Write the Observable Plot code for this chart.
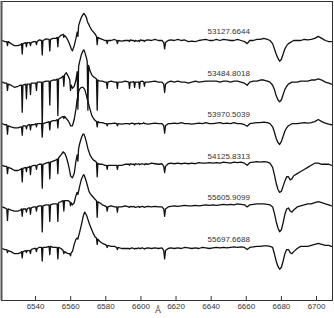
<!DOCTYPE html>
<html>
<head>
<meta charset="utf-8">
<script src="https://cdn.jsdelivr.net/npm/d3@7"></script>
<script src="https://cdn.jsdelivr.net/npm/@observablehq/plot@0.6"></script>
<style>
  html, body { margin: 0; padding: 0; background: #fff; }
  #chart { width: 334px; height: 318px; }
</style>
</head>
<body>
<div id="chart"></div>
<script>
// Wavelength grid (Å)
const wavelength = [
  6521, 6522.5, 6523.6, 6524.0, 6524.4, 6526, 6528, 6530, 6531.5,
  6532.0, 6532.4, 6532.8, 6534.4, 6534.8, 6535.2, 6536, 6536.7, 6537.1, 6537.5, 6539,
  6540.1, 6540.5, 6540.9, 6542, 6543.4, 6543.8, 6544.2, 6546, 6547.7, 6548.1, 6548.5, 6550, 6551.5,
  6552.3, 6552.7, 6553.1, 6554.5, 6555.7, 6556.1, 6556.5, 6557.5, 6558.5, 6559.5, 6559.9, 6560.3, 6561, 6562, 6563,
  6563.7, 6564.1, 6564.5, 6565, 6566, 6567, 6567.5, 6568, 6569, 6569.4, 6569.8, 6570.2, 6571, 6572, 6573, 6574,
  6574.7, 6575.1, 6575.5, 6576.5, 6578, 6579.5, 6580.4, 6580.8, 6581.2, 6583, 6585, 6586.2, 6586.6, 6587.0, 6589, 6591,
  6593.1, 6593.5, 6593.9, 6595, 6596.0, 6596.4, 6596.8, 6598, 6598.8, 6599.2, 6599.6, 6600.8, 6601.6, 6602.0, 6602.4, 6604, 6606, 6608, 6610, 6612,
  6613.0, 6613.5, 6614.0, 6615.5, 6617, 6619, 6621, 6623, 6625, 6627, 6629, 6631, 6633, 6635, 6637, 6639,
  6641, 6643, 6645, 6647, 6649, 6651, 6653, 6655, 6657, 6659, 6660.5, 6662, 6664, 6666, 6668, 6670, 6672, 6673.5,
  6675, 6676, 6677, 6678, 6679, 6680, 6681, 6682, 6683, 6684, 6685, 6686, 6687,
  6689, 6691, 6693, 6695, 6697, 6699, 6701, 6703, 6705, 6707, 6708.5
];

// Epoch labels (MJD)
const mjd = ["53127.6644", "53484.8018", "53970.5039", "54125.8313", "55605.9099", "55697.6688"];

// Relative flux (% of continuum), one array per epoch, on the wavelength grid
const flux53127 = [
  100, 98, 98, 90, 98, 94, 90, 90, 92,
  94, 74, 94, 96, 88, 96, 96, 96, 90, 96, 98,
  98, 92, 98, 101, 100, 72, 100, 103, 102, 80, 102, 104, 104,
  106, 88, 106, 110, 112, 106, 110, 106, 100, 92, 88, 84, 80, 90, 104,
  116, 108, 128, 134, 144, 150, 152, 150, 144, 138, 134, 132, 126, 120, 116, 112,
  108, 92, 106, 104, 102, 100, 100, 94, 100, 100, 102, 100, 94, 100, 99, 100,
  100, 98, 101, 100, 100, 98, 100, 99, 100, 98, 101, 100, 100, 98, 100, 101, 100, 102, 100, 100,
  96, 84, 96, 100, 101, 100, 102, 100, 101, 98, 99, 98, 100, 101, 102, 100,
  100, 102, 100, 102, 101, 100, 100, 102, 100, 98, 94, 100, 100, 102, 102, 104, 102, 100,
  94, 84, 74, 66, 60, 64, 74, 84, 90, 94, 96, 98, 100,
  100, 100, 102, 101, 102, 104, 108, 104, 100, 98, 98
];
const flux53484 = [
  100, 98, 98, 84, 96, 94, 90, 92, 94,
  94, 42, 94, 96, 68, 96, 96, 96, 76, 98, 98,
  98, 84, 100, 100, 100, 10, 100, 102, 102, 56, 102, 104, 104,
  106, 36, 106, 108, 112, 92, 114, 118, 112, 104, 84, 94, 88, 92, 104,
  120, 48, 130, 138, 152, 160, 162, 158, 146, 140, 46, 132, 122, 114, 110, 108,
  106, 46, 104, 102, 102, 100, 100, 88, 100, 102, 100, 100, 88, 100, 100, 102,
  100, 88, 100, 100, 101, 90, 100, 100, 100, 88, 101, 102, 100, 92, 100, 100, 101, 102, 100, 100,
  96, 80, 96, 100, 102, 100, 102, 100, 100, 98, 100, 102, 100, 101, 102, 102,
  102, 102, 100, 102, 102, 100, 102, 102, 100, 98, 94, 100, 102, 102, 104, 104, 102, 100,
  94, 86, 74, 66, 62, 66, 76, 86, 92, 96, 98, 100, 100,
  100, 102, 102, 102, 104, 104, 106, 104, 100, 98, 96
];
const flux53970 = [
  100, 98, 98, 80, 96, 94, 92, 92, 94,
  94, 78, 96, 96, 90, 96, 98, 98, 88, 98, 98,
  100, 94, 100, 100, 100, 74, 100, 102, 104, 88, 104, 106, 106,
  108, 92, 108, 112, 114, 110, 114, 110, 106, 100, 96, 96, 96, 108, 128,
  148, 144, 162, 166, 170, 170, 168, 166, 154, 148, 144, 138, 128, 116, 110, 106,
  104, 94, 104, 102, 102, 100, 100, 96, 100, 100, 101, 100, 96, 100, 99, 100,
  100, 99, 100, 101, 100, 98, 100, 100, 101, 99, 100, 100, 102, 100, 100, 99, 100, 101, 100, 100,
  96, 82, 96, 100, 100, 101, 100, 102, 100, 100, 99, 100, 101, 100, 102, 100,
  100, 101, 102, 100, 101, 100, 102, 100, 100, 98, 95, 100, 101, 102, 102, 103, 102, 100,
  94, 84, 72, 64, 60, 66, 76, 86, 92, 96, 98, 100, 100,
  100, 101, 102, 101, 102, 104, 108, 104, 101, 99, 98
];
const flux54125 = [
  100, 98, 98, 84, 96, 94, 90, 90, 92,
  94, 68, 94, 96, 88, 96, 96, 98, 82, 98, 100,
  100, 92, 100, 102, 102, 56, 102, 104, 106, 74, 106, 108, 110,
  112, 84, 114, 120, 126, 124, 124, 116, 104, 88, 80, 78, 76, 84, 108,
  120, 108, 132, 140, 152, 160, 160, 156, 144, 138, 132, 128, 120, 114, 110, 108,
  106, 78, 104, 102, 102, 100, 100, 92, 100, 100, 100, 100, 92, 100, 100, 102,
  102, 100, 103, 102, 102, 100, 103, 102, 103, 101, 102, 103, 102, 101, 103, 102, 104, 103, 102, 103,
  98, 86, 98, 103, 104, 103, 104, 103, 104, 103, 104, 103, 105, 104, 104, 105,
  104, 105, 104, 106, 105, 104, 106, 105, 106, 104, 100, 105, 106, 107, 106, 107, 106, 104,
  96, 82, 66, 54, 48, 50, 60, 70, 78, 78, 72, 74, 80,
  84, 88, 92, 96, 100, 104, 104, 102, 102, 102, 100
];
const flux55605 = [
  100, 98, 96, 74, 96, 94, 92, 92, 94,
  96, 82, 96, 96, 90, 96, 98, 98, 86, 98, 100,
  100, 92, 100, 102, 102, 52, 102, 104, 104, 72, 104, 106, 106,
  106, 72, 108, 110, 112, 92, 112, 112, 112, 110, 102, 108, 104, 108, 122,
  128, 124, 130, 138, 152, 160, 162, 158, 148, 142, 138, 132, 126, 122, 118, 114,
  112, 80, 110, 108, 104, 102, 100, 92, 100, 102, 100, 100, 90, 100, 100, 102,
  100, 99, 101, 100, 101, 100, 99, 100, 101, 99, 100, 101, 100, 99, 100, 101, 100, 101, 100, 100,
  96, 82, 96, 100, 101, 102, 101, 102, 103, 102, 102, 103, 102, 103, 104, 103,
  104, 103, 104, 105, 104, 105, 104, 106, 105, 104, 100, 104, 105, 106, 106, 106, 105, 104,
  100, 88, 72, 60, 52, 56, 70, 86, 96, 98, 92, 90, 94,
  100, 102, 104, 106, 106, 108, 110, 108, 106, 104, 102
];
const flux55697 = [
  100, 98, 98, 92, 96, 94, 90, 90, 92,
  94, 82, 94, 96, 92, 96, 96, 96, 90, 98, 100,
  100, 94, 100, 102, 102, 76, 102, 102, 104, 88, 104, 102, 102,
  102, 80, 102, 100, 96, 90, 94, 92, 90, 90, 86, 92, 94, 108, 118,
  120, 118, 124, 130, 144, 160, 166, 170, 164, 160, 156, 152, 144, 136, 128, 122,
  120, 108, 118, 114, 110, 108, 106, 102, 106, 104, 104, 102, 98, 102, 100, 100,
  100, 99, 100, 101, 100, 99, 100, 100, 101, 100, 100, 101, 100, 99, 100, 101, 100, 101, 100, 101,
  96, 80, 96, 100, 101, 100, 101, 100, 102, 101, 100, 101, 100, 102, 101, 100,
  101, 102, 101, 102, 101, 102, 103, 102, 103, 102, 98, 102, 103, 104, 104, 105, 105, 104,
  102, 90, 76, 66, 60, 64, 76, 90, 98, 98, 92, 90, 94,
  100, 104, 104, 104, 106, 108, 110, 108, 106, 106, 104
];

// Vertical offset applied to each spectrum (continuum units)
const offsets = [0, -0.8, -1.6, -2.4, -3.2, -4.0];

// Axis tick labels (Å)
const xTicks = [6540, 6560, 6580, 6600, 6620, 6640, 6660, 6680, 6700];
const xLabel = "Å";

// ---- build table ----
const fluxes = [flux53127, flux53484, flux53970, flux54125, flux55605, flux55697];
fluxes.forEach((f, i) => {
  if (f.length !== wavelength.length) throw new Error(`flux ${mjd[i]} length ${f.length} != ${wavelength.length}`);
});
const rows = [];
fluxes.forEach((f, i) => {
  f.forEach((v, j) => rows.push({lambda: wavelength[j], y: v / 100 + offsets[i], mjd: mjd[i]}));
});
const labelRows = mjd.map((m, i) => ({mjd: m, level: 1 + offsets[i]}));

const xDomain = [6520.6, 6709.1];
const labelLambda = 6650;

const chart = Plot.plot({
  width: 334,
  height: 318,
  marginLeft: 1,
  marginRight: 2,
  marginTop: 1,
  marginBottom: 18,
  x: {domain: xDomain},
  y: {domain: [-4.0, 1.75], axis: null},
  style: {fontFamily: "'Liberation Sans', Arial, sans-serif", fontSize: "8px", color: "#333", background: "#fff"},
  marks: [
    Plot.line(rows, {x: "lambda", y: "y", z: "mjd", stroke: "#111", strokeWidth: 1.3, strokeLinejoin: "round"}),
    Plot.text(labelRows, {x: () => labelLambda, y: "level", text: "mjd", dy: -9, fill: "#333", fontSize: 8}),
    Plot.frame({stroke: "#333", strokeWidth: 1}),
    Plot.ruleX([xDomain[0]], {stroke: "#555", strokeWidth: 2}),
    Plot.axisX(xTicks, {anchor: "bottom", tickSize: -4, tickPadding: 7, tickFormat: d => String(d), label: null, stroke: "#333", fill: "#333", fontSize: 8}),
    Plot.text([xLabel], {frameAnchor: "bottom", dx: -9, dy: 12, fill: "#333", fontSize: 9})
  ]
});
document.getElementById("chart").appendChild(chart);
</script>
</body>
</html>
